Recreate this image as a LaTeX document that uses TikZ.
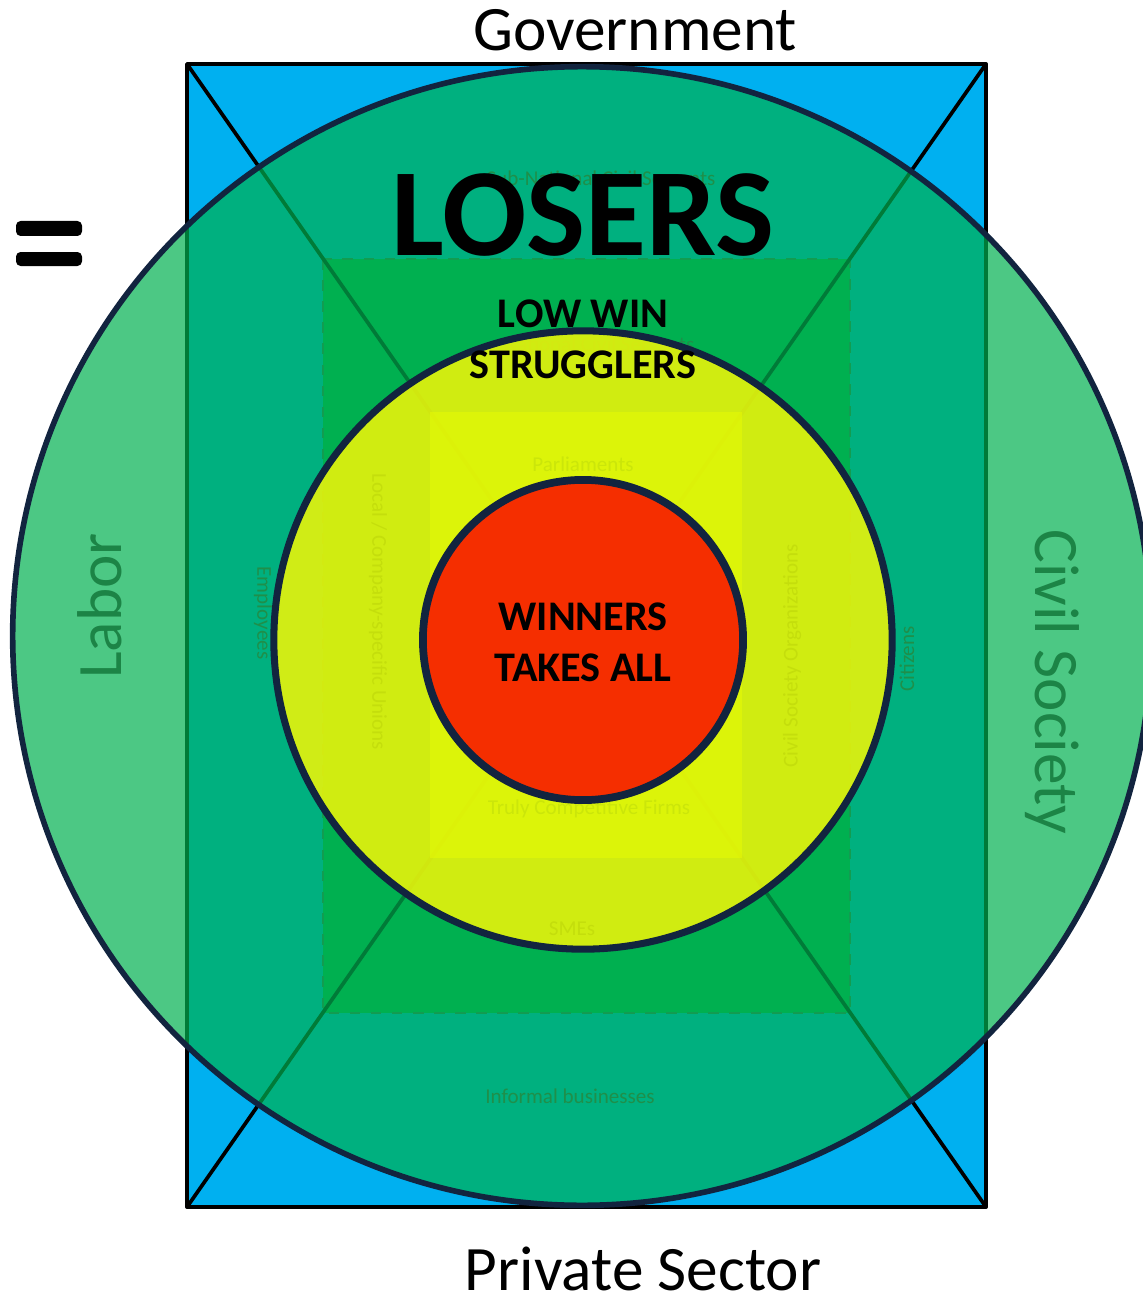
\documentclass[tikz,border=0pt]{standalone}
\usepackage{fontspec}
\setmainfont{Carlito}
\definecolor{skyblue}{HTML}{00B0F0}
\definecolor{leafgreen}{HTML}{00B050}
\definecolor{navy}{HTML}{12243F}
\definecolor{lime}{HTML}{E7F30B}
\definecolor{limerect}{HTML}{E8FC02}
\definecolor{redc}{HTML}{F52E00}
\definecolor{darkgreentext}{HTML}{1C8446}
\definecolor{faintgreen}{HTML}{1F8F4A}
\definecolor{faintyellow}{HTML}{C4DE0C}
\definecolor{faintyellowb}{HTML}{CBE60A}
\definecolor{dashgray}{HTML}{3D6E55}
\tikzset{
  bigtext/.style={font=\fontsize{18}{20}\selectfont, inner sep=0pt},
  faint/.style={font=\fontsize{6}{7}\selectfont, inner sep=0pt},
  boldtwelve/.style={font=\bfseries\fontsize{12}{14.5}\selectfont, align=center, inner sep=0pt},
}
\begin{document}
\begin{tikzpicture}[x=0.01cm,y=-0.01cm]
\useasboundingbox (0,0) rectangle (1142,1297);
% outer square and middle rectangle
\coordinate (tl) at (187,64);
\coordinate (tr) at (986,64);
\coordinate (bl) at (187,1207);
\coordinate (br) at (986,1207);
\coordinate (c) at (582,636);
\fill[skyblue] (tl) rectangle (br);
\draw[black, line width=1.1pt, line join=round] (tl) rectangle (br);
\path[fill=leafgreen, draw=dashgray, dashed, line width=0.6pt] (323,259) rectangle (850,1013);
\draw[black, line width=1.05pt] (tl) -- (br);
\draw[black, line width=1.05pt] (tr) -- (bl);
% outer circle
\path[fill=leafgreen, fill opacity=0.7, draw=navy, line width=1.6pt] (c) circle[radius=5.69cm];
% texts on outer ring
\node[bigtext, text=darkgreentext, rotate=90] (labor) at (100,606) {Labor};
\node[bigtext, text=darkgreentext, rotate=-90] (civil) at (1052,682) {Civil Society};
\node[faint, text=faintgreen] (subnat) at (601,178) {Sub-National Civil Servants};
\node[faint, text=faintgreen] (informal) at (570,1096) {Informal businesses};
\node[faint, text=faintgreen, rotate=-90] (employees) at (263,613) {Employees};
\node[faint, text=faintgreen, rotate=90] (citizens) at (907,659) {Citizens};
\node[faint, text=faintgreen] (natcs) at (599,344) {National Civil Servants};
% yellow circle
\path[fill=lime, fill opacity=0.9] (583,640) circle[radius=3.09cm];
\path[fill=limerect, fill opacity=0.5] (430,412) rectangle (742,858);
\node[faint, text=faintyellowb] (parl) at (583,464) {Parliaments};
\node[faint, text=faintyellowb] (truly) at (589,809) {Truly Competitive Firms};
\node[faint, text=faintyellow] (smes) at (572,929) {SMEs};
\node[faint, text=faintyellow, rotate=-90] (unions) at (378,612) {Local / Company-specific Unions};
\node[faint, text=faintyellow, rotate=90] (cso) at (792,656) {Civil Society Organizations};
\draw[navy, line width=2pt] (583,640) circle[radius=3.09cm];
% red circle
\path[fill=redc, draw=navy, line width=2.2pt] (583,640) circle[radius=1.60cm];
% main labels
\node[bigtext] (gov) at (635,30) {Government};
\node[bigtext] (priv) at (643,1269) {Private Sector};
\node[font=\bfseries\fontsize{35.5}{40}\selectfont, inner sep=0pt] (losers) at (583,215) {LOSERS};
\node[boldtwelve] (struggle) at (583,339) {LOW WIN\\STRUGGLERS};
\node[boldtwelve] (winners) at (583,642) {WINNERS\\TAKES ALL};
% equal sign
\fill[black, rounded corners=1.3pt] (16,221) rectangle (82,236);
\fill[black, rounded corners=1.3pt] (16,252) rectangle (82,266);
\end{tikzpicture}
\end{document}
